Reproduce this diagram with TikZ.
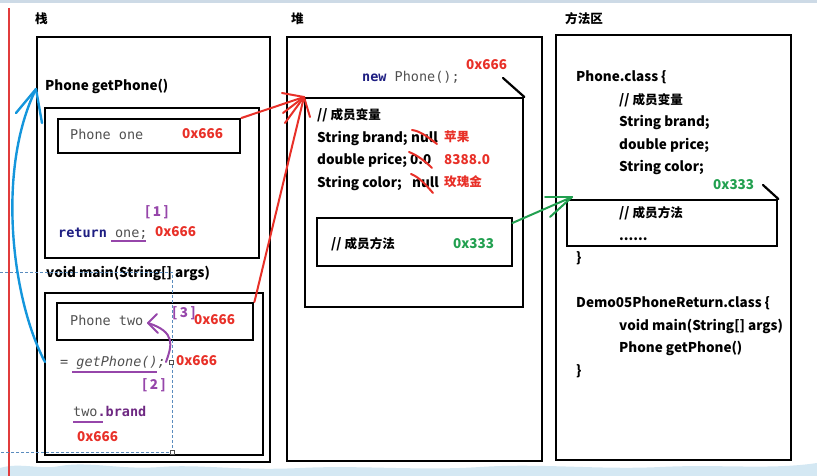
\documentclass[tikz,border=0pt]{standalone}
\usepackage{fontspec}
\setmainfont{Noto Sans CJK SC}
\setmonofont{DejaVu Sans Mono}
\newfontfamily\cjk{Noto Sans CJK SC}[Scale=0.93]
\usetikzlibrary{calc}
\definecolor{cred}{RGB}{232,48,40}
\definecolor{cgreen}{RGB}{34,160,80}
\definecolor{cpurple}{RGB}{150,70,170}
\definecolor{cdpurple}{RGB}{110,40,130}
\definecolor{cnavy}{RGB}{30,30,130}
\definecolor{cgray}{RGB}{80,80,80}
\definecolor{cblue}{RGB}{20,150,220}
\definecolor{cdash}{RGB}{90,140,190}
\definecolor{ctop}{RGB}{205,218,230}
\definecolor{cwave}{RGB}{212,232,243}
\definecolor{cvred}{RGB}{225,60,60}
\begin{document}
\begin{tikzpicture}[x=1pt,y=-1pt,
  box/.style={draw=black,line width=2.4pt,inner sep=0pt,anchor=north west},
  txt/.style={anchor=west,inner sep=0pt,text height=9.5pt,text depth=0pt,font=\bfseries\fontsize{13.5}{16}\selectfont},
  mono/.style={anchor=west,inner sep=0pt,text height=10pt,text depth=0pt,font=\ttfamily\fontsize{13.5}{16}\selectfont,text=cgray},
  addr/.style={txt,text=cred},
  gaddr/.style={txt,text=cgreen},
  tag/.style={txt,text=cpurple},
  redline/.style={draw=cred,line width=2pt,line cap=round},
  greenline/.style={draw=cgreen,line width=2pt,line cap=round},
  blueline/.style={draw=cblue,line width=2.4pt,line cap=round},
  purpleline/.style={draw=cpurple,line width=2pt,line cap=round},
  uline/.style={draw=cpurple,line width=2pt},
  guide/.style={draw=cdash,line width=0.9pt,dash pattern=on 3pt off 2pt},
  tick/.style={draw=black,line width=2.2pt,line cap=round}
]
\useasboundingbox (0,0) rectangle (817,476);
% background decorations
\fill[ctop] (0,0) rectangle (817,3);
\fill[cwave] (0,476) -- (0,468) .. controls (20,462) and (40,470) .. (60,466)
  .. controls (90,461) and (120,470) .. (160,467) .. controls (200,464) and (240,471) .. (300,468)
  .. controls (360,465) and (420,471) .. (480,467) .. controls (540,463) and (600,470) .. (660,467)
  .. controls (720,464) and (770,470) .. (817,463) -- (817,476) -- cycle;
\draw[cvred,line width=1.6pt] (9,8) -- (9,476);

% ===== stack =====
\node[txt] (lstack) at (35,19) {\cjk 栈};
\node[box,minimum width=233pt,minimum height=425pt] (stack) at (36,36) {};
\node[txt] (getsig) at (45,86) {Phone getPhone()};
\node[box,minimum width=214pt,minimum height=150pt] (getbox) at (44,107) {};
\node[box,minimum width=182pt,minimum height=34pt] (onebox) at (57,118) {};
\node[mono] (onetxt) at (70,135) {Phone one};
\node[addr] (oneaddr) at (182,134) {0x666};
\node[tag] (t1) at (145,212) {[\,1\,]};
\node[mono] (ret) at (58,232) {\textcolor{cnavy}{\bfseries return} one;};
\node[addr] (retaddr) at (155,232) {0x666};
\draw[uline] (111,241) -- (146,241);

\node[txt] (mainsig) at (46,273) {void main(String[] args)};
\node[box,minimum width=218pt,minimum height=162pt] (mainbox) at (44,292) {};
\node[box,minimum width=196pt,minimum height=37pt] (twobox) at (56,302) {};
\node[mono] (twotxt) at (70,320) {Phone two};
\node[tag] (t3) at (172,313) {[\,3\,]};
\node[addr] (twoaddr) at (194,320) {0x666};
\node[mono] (call) at (60,361) {= {\itshape getPhone();}};
\node[addr] (calladdr) at (176,361) {0x666};
\draw[uline] (72,372) -- (157,372);
\node[tag] (t2) at (142,385) {[\,2\,]};
\node[mono] (brand) at (73,411) {two\textcolor{cdpurple}{\bfseries .brand}};
\draw[uline] (73,422) -- (103,422);
\node[addr] (brandaddr) at (77,437) {0x666};

% selection guide
\draw[guide] (0,272) -- (172,272) -- (172,452) -- (0,452);
\draw[cgray,line width=0.6pt,fill=white] (170,450) rectangle (174,454);
\draw[cgray,line width=0.6pt,fill=white] (169,360) rectangle (173,364);

% ===== heap =====
\node[txt] (lheap) at (291,19) {\cjk 堆};
\node[box,minimum width=255pt,minimum height=424pt] (heap) at (286,36) {};
\node[mono] (newtxt) at (362,77) {\textcolor{cnavy}{\bfseries new} Phone();};
\node[addr] (newaddr) at (466,65) {0x666};
\node[box,minimum width=218pt,minimum height=209pt] (obj) at (304,97) {};
\draw[tick] (503,78) -- (obj.north east);
\node[txt] (hv) at (317,115) {// {\cjk 成员变量}};
\node[txt] (hb) at (317,138) {String brand;};
\node[txt] (hbn) at (411,138) {null};
\node[addr] (hbv) at (444,137) {\cjk 苹果};
\node[txt] (hp) at (317,160) {double price;};
\node[txt] (hpn) at (410,160) {0.0};
\node[addr] (hpv) at (444,160) {8388.0};
\node[txt] (hc) at (317,183) {String color;};
\node[txt] (hcn) at (412,183) {null};
\node[addr] (hcv) at (444,182) {\cjk 玫瑰金};
\draw[redline] (412,130) .. controls (420,131) and (428,137) .. (437,144);
\draw[redline] (409,152) .. controls (417,155) and (425,161) .. (432,168);
\draw[redline] (411,174) .. controls (419,177) and (426,185) .. (433,193);
\node[box,minimum width=195pt,minimum height=48pt] (mbox) at (316,217) {};
\node[txt] (hm) at (331,244) {// {\cjk 成员方法}};
\node[gaddr] (maddr) at (453,244) {0x333};

% ===== method area =====
\node[txt] (lmeth) at (565,19) {\cjk 方法区};
\node[box,minimum width=235pt,minimum height=425pt] (marea) at (555,34) {};
\node[txt] (pc) at (576,77) {Phone.class \{};
\node[txt] (pv) at (619,100) {// {\cjk 成员变量}};
\node[txt] (pb) at (619,122) {String brand;};
\node[txt] (pp) at (619,145) {double price;};
\node[txt] (pcol) at (619,167) {String color;};
\node[gaddr] (paddr) at (713,185) {0x333};
\node[box,minimum width=210pt,minimum height=46pt] (mabox) at (566,199) {};
\draw[tick] (763,185) -- (mabox.north east);
\node[txt] (pm) at (619,213) {// {\cjk 成员方法}};
\node[txt] (pdots) at (619,236) {......};
\node[txt] (pend) at (576,258) {\}};
\node[txt] (dc) at (576,303) {Demo05PhoneReturn.class \{};
\node[txt] (dm) at (619,326) {void main(String[] args)};
\node[txt] (dg) at (619,348) {Phone getPhone()};
\node[txt] (dend) at (576,371) {\}};

% ===== connectors =====
% red references into heap object
\draw[redline] (onebox.north east) -- (obj.north west);
\draw[redline] (twobox.north east) -- (obj.north west);
\draw[redline] (obj.north west) -- ++(-22,-4);
\draw[redline] (obj.north west) -- ++(-21,16);
\draw[redline] (obj.north west) -- ++(-19,26);
\draw[redline] (obj.north west) -- ++(6,20);
% green method reference
\coordinate (gtip) at ($(mabox.north west)+(6,-2)$);
\coordinate (gstart) at ($(mbox.north east)+(-1,6)$);
\draw[greenline] (gstart) -- (gtip);
\draw[greenline] (gtip) -- ++(-27,0);
\draw[greenline] (gtip) -- ++(-22,20);
% blue call arrow
\coordinate (bstart) at (45,362);
\coordinate (btip) at (36,89);
\draw[blueline] (bstart) .. controls (12,300) and (-4,170) .. (btip);
\draw[blueline] (btip) -- ++(-20,24);
\draw[blueline] (btip) -- ++(6,34);
% purple return arrow
\coordinate (pstart) at (166,362);
\coordinate (ptip) at (148,323);
\draw[purpleline] (pstart) .. controls (172,345) and (176,332) .. (ptip);
\draw[purpleline] (ptip) -- ++(9,-9);
\draw[purpleline] (ptip) -- ++(10,10);
\end{tikzpicture}
\end{document}
